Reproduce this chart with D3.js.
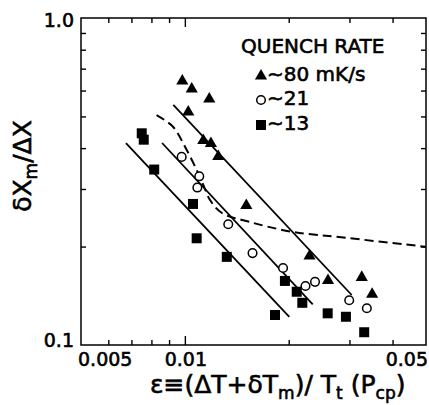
<!DOCTYPE html>
<html lang="en">
<head>
  <meta charset="utf-8">
  <title>Quench rate</title>
  <script type="text/javascript" src="https://d3js.org/d3.v7.min.js"></script>
  <style type="text/css">
    body { margin: 0; background: #fff; }
    text { font-family: "DejaVu Sans", sans-serif; fill: #000; stroke: #000; stroke-width: 0.6; }
    .axis path, .axis line { stroke: #000; stroke-width: 1.4; }
  </style>
</head>
<body>
  <script type="text/javascript">
    // ~80 mK/s (filled triangles)
    var triX = [0.00983, 0.01047, 0.01177, 0.01023, 0.01131, 0.0119, 0.0125, 0.01507, 0.02298, 0.026, 0.03256, 0.0349];
    var triY = [0.642, 0.607, 0.565, 0.516, 0.422, 0.413, 0.377, 0.267, 0.187, 0.1575, 0.161, 0.143];
    // ~21 (open circles)
    var circX = [0.00979, 0.01101, 0.01087, 0.01336, 0.01571, 0.01926, 0.02237, 0.02384, 0.02995, 0.03369];
    var circY = [0.376, 0.328, 0.303, 0.234, 0.191, 0.172, 0.1515, 0.156, 0.137, 0.1295];
    // ~13 (filled squares)
    var sqX = [0.0075, 0.0076, 0.00815, 0.01056, 0.01082, 0.01323, 0.01825, 0.0195, 0.0211, 0.0219, 0.02594, 0.0293, 0.0331];
    var sqY = [0.444, 0.4245, 0.344, 0.270, 0.212, 0.186, 0.1235, 0.157, 0.1455, 0.1346, 0.125, 0.122, 0.1094];

    // solid fit lines (start, end)
    var fitX = [[0.00926, 0.03045], [0.00859, 0.02348], [0.00675, 0.02008]];
    var fitY = [[0.542, 0.1422], [0.4147, 0.1332], [0.414, 0.122]];

    // dashed curve
    var dashX = [0.00828, 0.00924, 0.01001, 0.01082, 0.01131, 0.01183, 0.01281, 0.01545, 0.0204, 0.0297, 0.0498];
    var dashY = [0.505, 0.465, 0.404, 0.343, 0.3085, 0.2776, 0.2533, 0.2377, 0.2221, 0.2124, 0.1998];

    var xMinor = [0.006, 0.007, 0.008, 0.009, 0.02, 0.03, 0.04];
    var yMinor = [0.2, 0.3, 0.4, 0.5, 0.6, 0.7, 0.8, 0.9];
    var xLabels = ["0.005", "0.01", "0.05"];
    var yLabels = ["0.1", "1.0"];
    var legendTitle = "QUENCH RATE";
    var legendText = ["80 mK/s", "21", "13"];

    var width = 429, height = 405;
    var margin = {top: 18, right: 3, bottom: 60, left: 81};

    var svg = d3.select("body")
      .append("svg")
      .attr("width", width)
      .attr("height", height);

    var x = d3.scaleLog()
      .domain([0.005, 0.05])
      .range([margin.left, width - margin.right]);
    var y = d3.scaleLog()
      .domain([0.1, 1])
      .range([height - margin.bottom, margin.top]);

    var x0 = x.range()[0], x1 = x.range()[1];
    var y0 = y.range()[0], y1 = y.range()[1];

    // frame
    svg.append("rect")
      .attr("x", x0).attr("y", y1)
      .attr("width", x1 - x0).attr("height", y0 - y1)
      .attr("fill", "none")
      .attr("stroke", "#000")
      .attr("stroke-width", 1.5);

    // inward ticks on all four sides
    function ticks(axis, tr) {
      svg.append("g")
        .attr("class", "axis")
        .attr("transform", tr)
        .call(axis)
        .call(function(g) { g.select(".domain").remove(); });
    }
    ticks(d3.axisBottom(x).tickValues(xMinor).tickSize(-5).tickFormat(""), "translate(0," + y0 + ")");
    ticks(d3.axisBottom(x).tickValues([0.01]).tickSize(-9).tickFormat(""), "translate(0," + y0 + ")");
    ticks(d3.axisTop(x).tickValues(xMinor).tickSize(-5).tickFormat(""), "translate(0," + y1 + ")");
    ticks(d3.axisTop(x).tickValues([0.01]).tickSize(-9).tickFormat(""), "translate(0," + y1 + ")");
    ticks(d3.axisLeft(y).tickValues(yMinor).tickSize(-5).tickFormat(""), "translate(" + x0 + ",0)");
    ticks(d3.axisRight(y).tickValues(yMinor).tickSize(-5).tickFormat(""), "translate(" + x1 + ",0)");

    // tick labels
    var xl = svg.append("g").attr("font-size", 19);
    xl.append("text").attr("x", x(0.005) - 3).attr("y", 366).attr("text-anchor", "start").text(xLabels[0]);
    xl.append("text").attr("x", x(0.01) + 1).attr("y", 366).attr("text-anchor", "middle").text(xLabels[1]);
    xl.append("text").attr("x", x(0.05) + 2).attr("y", 366).attr("text-anchor", "end").text(xLabels[2]);
    xl.append("text").attr("x", x0 - 7).attr("y", y(0.1) + 2).attr("text-anchor", "end").text(yLabels[0]);
    xl.append("text").attr("x", x0 - 7).attr("y", y(1) + 9).attr("text-anchor", "end").text(yLabels[1]);

    // axis titles
    var xt = svg.append("text")
      .attr("x", 150).attr("y", 393)
      .attr("font-size", 25);
    xt.append("tspan").text("\u03b5\u2261(\u0394T+\u03b4T");
    xt.append("tspan").attr("font-size", 17).attr("dy", 6).text("m");
    xt.append("tspan").attr("dy", -6).text(")/ T");
    xt.append("tspan").attr("font-size", 17).attr("dy", 6).text("t");
    xt.append("tspan").attr("dy", -6).text(" (P");
    xt.append("tspan").attr("font-size", 17).attr("dy", 6).text("cp");
    xt.append("tspan").attr("dy", -6).text(")");

    var yt = svg.append("text")
      .attr("transform", "translate(31,166) rotate(-90)")
      .attr("text-anchor", "middle")
      .attr("font-size", 25);
    yt.append("tspan").text("\u03b4X");
    yt.append("tspan").attr("font-size", 17).attr("dy", 6).text("m");
    yt.append("tspan").attr("dy", -6).text("/\u0394X");

    // fit lines
    for (var i = 0; i < fitX.length; i++) {
      svg.append("line")
        .attr("x1", x(fitX[i][0])).attr("y1", y(fitY[i][0]))
        .attr("x2", x(fitX[i][1])).attr("y2", y(fitY[i][1]))
        .attr("stroke", "#000")
        .attr("stroke-width", 1.8);
    }

    // dashed curve
    var line = d3.line()
      .x(function(d) { return x(d[0]); })
      .y(function(d) { return y(d[1]); })
      .curve(d3.curveCatmullRom);
    svg.append("path")
      .attr("d", line(d3.zip(dashX, dashY)))
      .attr("fill", "none")
      .attr("stroke", "#000")
      .attr("stroke-width", 2)
      .attr("stroke-dasharray", "9,5");

    // markers
    var tri = d3.symbol().type(d3.symbolTriangle).size(64);
    var sq = d3.symbol().type(d3.symbolSquare).size(100);

    svg.selectAll(".tri")
      .data(d3.zip(triX, triY))
      .enter().append("path")
      .attr("class", "tri")
      .attr("d", tri)
      .attr("transform", function(d) { return "translate(" + x(d[0]) + "," + y(d[1]) + ")"; })
      .attr("fill", "#000");

    svg.selectAll(".sq")
      .data(d3.zip(sqX, sqY))
      .enter().append("path")
      .attr("class", "sq")
      .attr("d", sq)
      .attr("transform", function(d) { return "translate(" + x(d[0]) + "," + y(d[1]) + ")"; })
      .attr("fill", "#000");

    svg.selectAll(".circ")
      .data(d3.zip(circX, circY))
      .enter().append("circle")
      .attr("class", "circ")
      .attr("cx", function(d) { return x(d[0]); })
      .attr("cy", function(d) { return y(d[1]); })
      .attr("r", 4.3)
      .attr("fill", "#fff")
      .attr("stroke", "#000")
      .attr("stroke-width", 1.5);

    // legend
    var lg = svg.append("g");
    lg.append("text").attr("x", 241).attr("y", 53).attr("font-size", 20).text(legendTitle);
    var rows = [76, 100, 125];
    lg.append("path").attr("d", tri).attr("transform", "translate(261," + rows[0] + ")");
    lg.append("circle").attr("cx", 261).attr("cy", rows[1]).attr("r", 4.3)
      .attr("fill", "#fff").attr("stroke", "#000").attr("stroke-width", 1.5);
    lg.append("path").attr("d", sq).attr("transform", "translate(261," + rows[2] + ")");
    legendText.forEach(function(t, i) {
      lg.append("text").attr("x", 267).attr("y", rows[i] + 5).attr("font-size", 20)
        .text("\u223c" + t);
    });
  </script>
</body>
</html>
